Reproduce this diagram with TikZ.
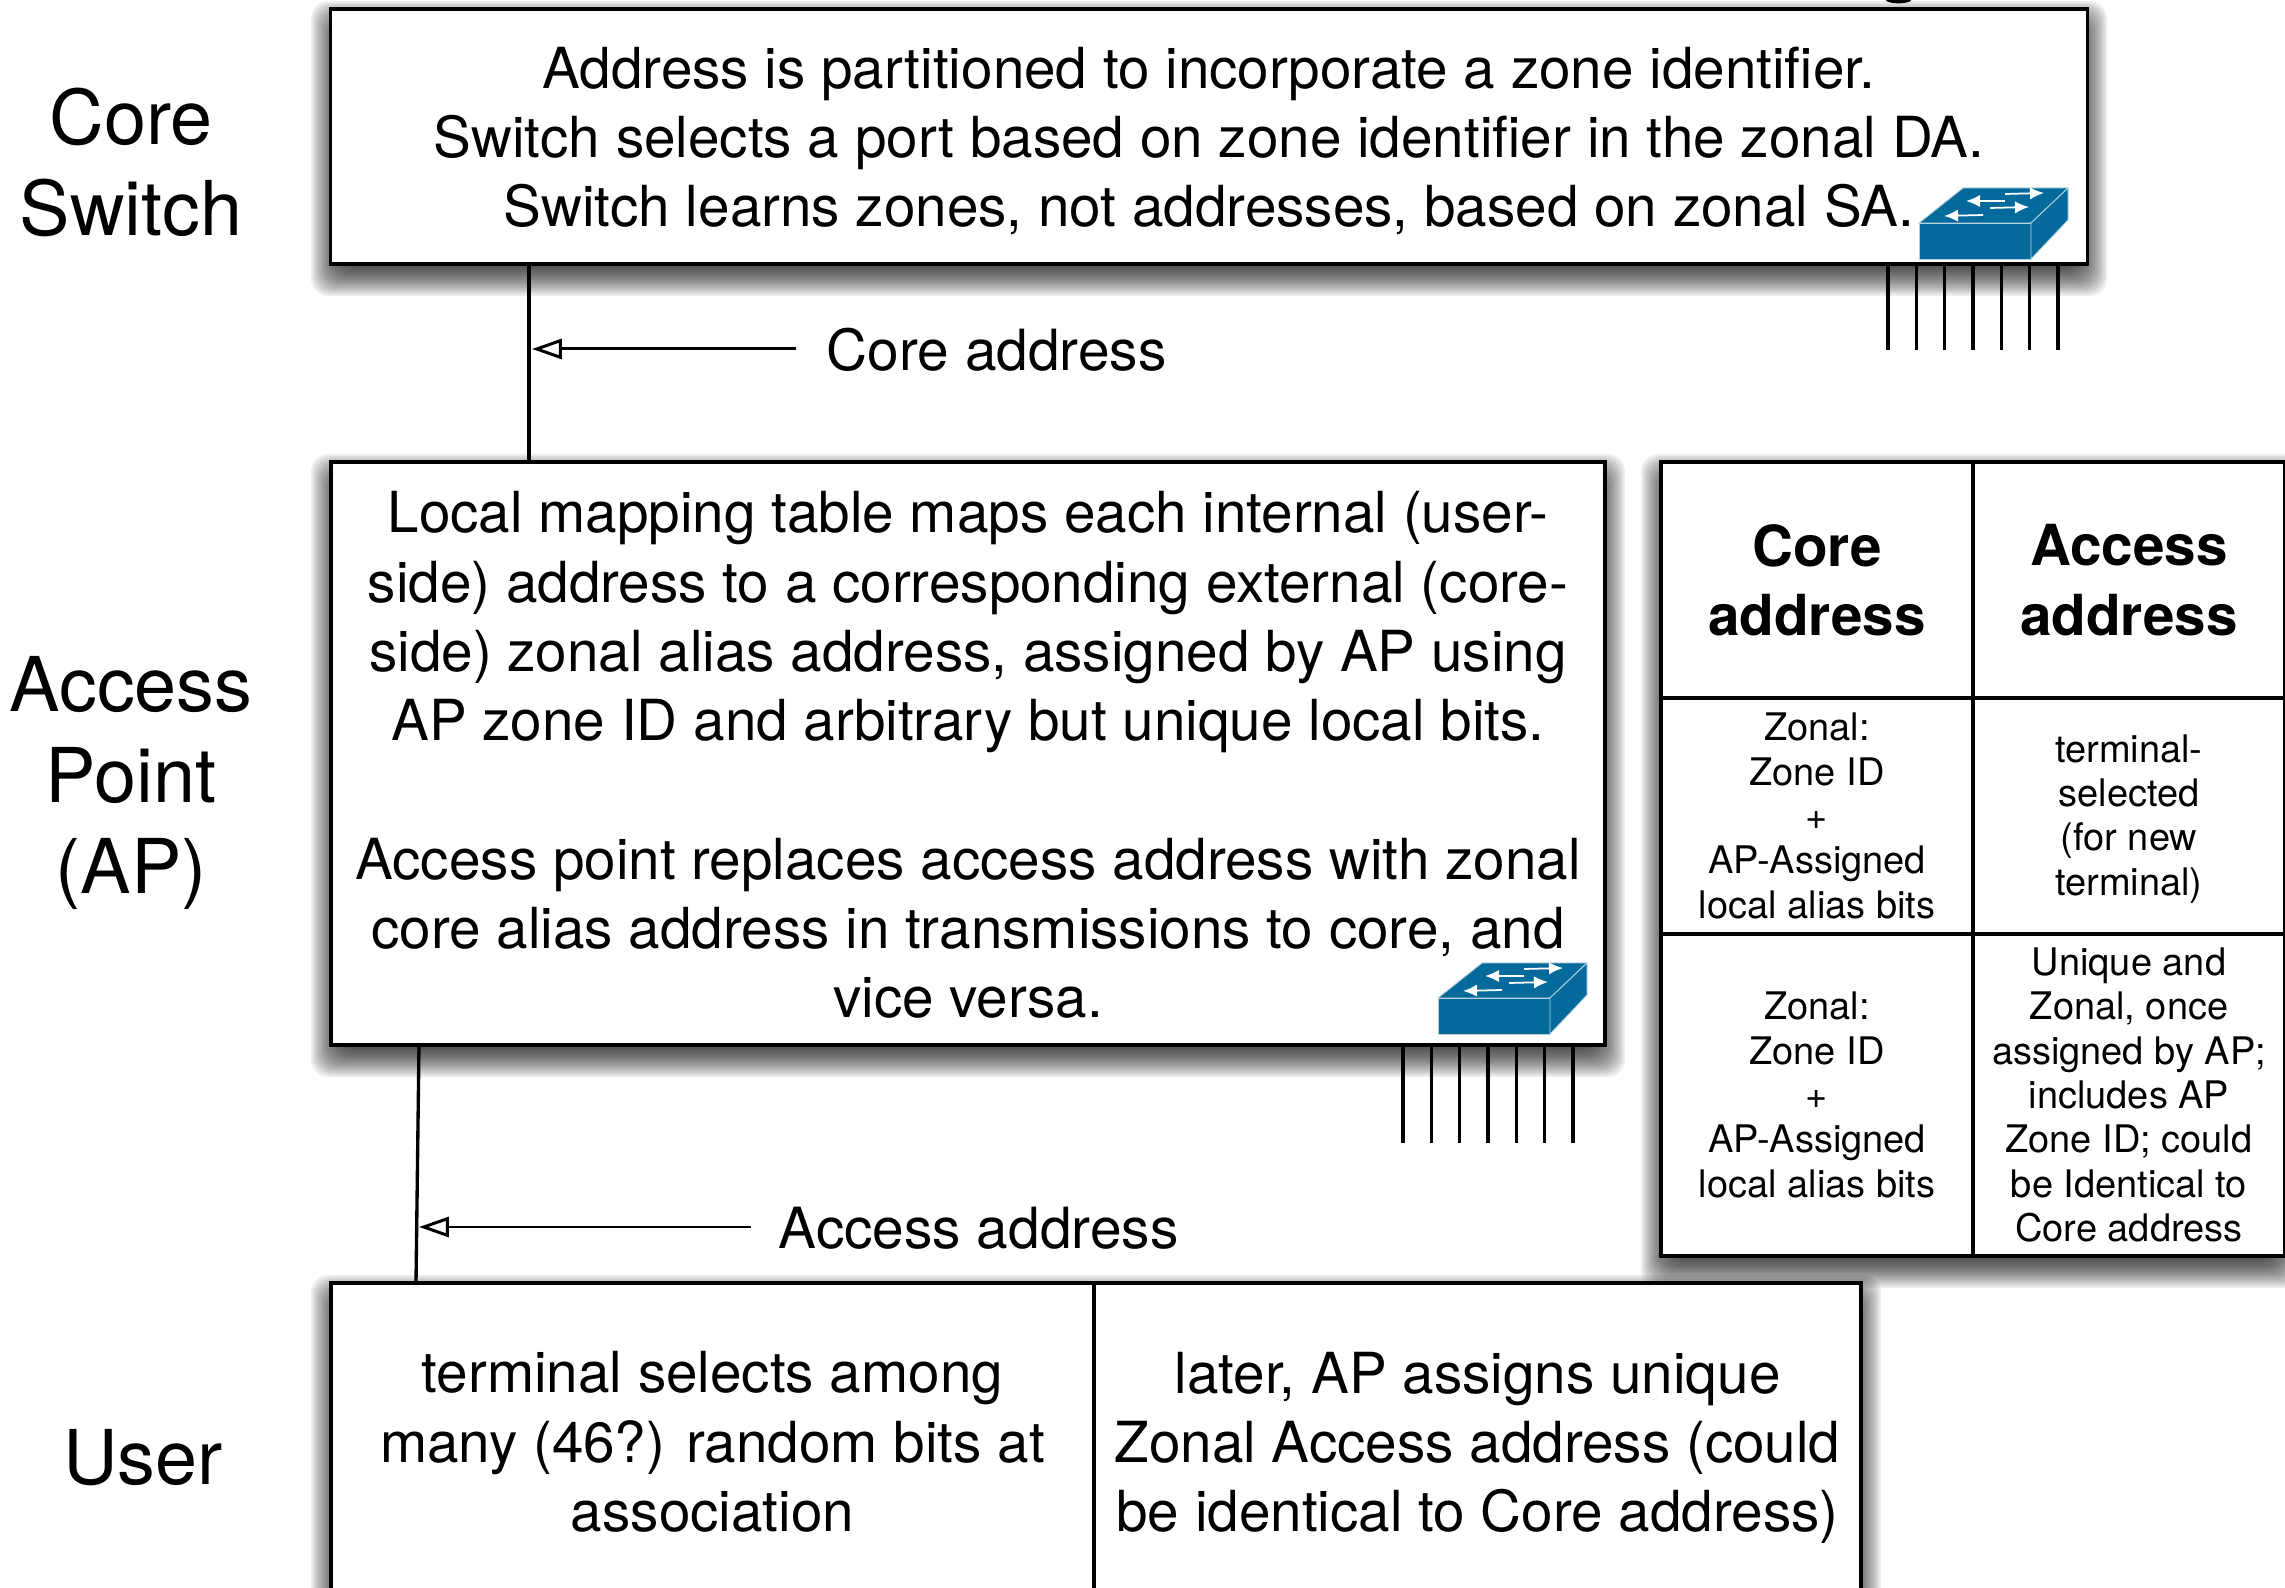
\documentclass[tikz,border=0pt]{standalone}
\usepackage{fontspec}
\setmainfont{TeX Gyre Heros}
\usetikzlibrary{arrows.meta}
\tikzset{
	panel/.style={draw,fill=white,line width=1.1pt,inner sep=0pt,outer sep=0pt,align=center,font=\fontsize{16.1}{19.7}\selectfont},
	cell/.style={panel,minimum width=3.12cm,font=\fontsize{10.8}{12.6}\selectfont},
	headcell/.style={cell,font=\fontsize{16.1}{19.7}\selectfont\bfseries},
	level/.style={align=center,inner sep=0pt,font=\fontsize{21.5}{25.9}\selectfont},
	tag/.style={anchor=west,inner sep=0pt,font=\fontsize{16.15}{19.7}\selectfont},
	link/.style={line width=0.95pt},
	pointer/.style={line width=0.85pt,-{Triangle[open,length=8.5pt,width=5.7pt]}},
	portline/.style={line width=0.95pt},
	shadowlayer/.style={black,opacity=0.07,rounded corners=5pt}
}
\definecolor{switchblue}{RGB}{4,106,155}
\begin{document}
\begin{tikzpicture}[x=1cm,y=1cm]
\def\h{0.01}
\def\px#1#2{({(#1)*\h},{-(#2)*\h})}
\def\shadowrect#1#2#3#4{
	\foreach \s in {-20,-18,...,20}{
		\fill[shadowlayer] \px{#1-\s}{#2+12-\s} rectangle \px{#3+\s}{#4+12+\s};
	}
}
\def\switchicon#1#2{
	\begin{scope}[xshift={(#1)*\h*1cm},yshift={-(#2)*\h*1cm}]
	\fill[switchblue,draw=white!70!switchblue,line width=0.25pt] \px{1919}{223} -- \px{1963}{188} -- \px{2068}{188} -- \px{2031}{223} -- cycle;
	\fill[switchblue,draw=white!70!switchblue,line width=0.25pt] \px{1919}{223} rectangle \px{2031}{259};
	\fill[switchblue,draw=white!70!switchblue,line width=0.25pt] \px{2031}{223} -- \px{2068}{188} -- \px{2068}{220} -- \px{2031}{259} -- cycle;
	\draw[white,line width=0.5pt,-{Latex[length=4pt,width=3.5pt]}] \px{2005}{194} -- \px{2044}{193};
	\draw[white,line width=0.5pt,-{Latex[length=4pt,width=3.5pt]}] \px{2005}{201} -- \px{1966}{201};
	\draw[white,line width=0.5pt,-{Latex[length=4pt,width=3.5pt]}] \px{1990}{208} -- \px{2029}{207};
	\draw[white,line width=0.5pt,-{Latex[length=4pt,width=3.5pt]}] \px{1983}{215} -- \px{1944}{216};
	\end{scope}
}
\path[use as bounding box,clip] \px{0}{0} rectangle \px{2285}{1588};

\shadowrect{331}{9}{2087}{264}
\shadowrect{331}{462}{1605}{1045}
\shadowrect{331}{1283}{1861}{1601}
\shadowrect{1661}{462}{2283}{1256}

\draw[line width=1.2pt] \px{1887}{-1} .. controls \px{1892}{2} and \px{1905}{2} .. \px{1910}{-1};

\node[level] (corelevel) at \px{131}{162} {Core\\Switch};
\node[level] (aplevel) at \px{131}{783} {Access\\Point\\(AP)};
\node[level] (userlevel) at \px{143}{1458} {User};

\node[panel,minimum width=17.56cm,minimum height=2.55cm,text depth=0pt] (corebox) at \px{1209}{136.5} {};
\node[inner sep=0pt,align=center,font=\fontsize{16.1}{19.7}\selectfont] (coretext) at \px{1209}{141} {Address is partitioned to incorporate a zone identifier.\\Switch selects a port based on zone identifier in the zonal DA.\\Switch learns zones, not addresses, based on zonal SA.};

\node[panel,minimum width=12.74cm,minimum height=5.83cm] (apbox) at \px{968}{753.5} {};
\node[inner sep=0pt,align=center,font=\fontsize{16.1}{19.7}\selectfont] (aptext) at \px{968}{755} {Local mapping table maps each internal (user-\\side) address to a corresponding external (core-\\side) zonal alias address, assigned by AP using\\AP zone ID and arbitrary but unique local bits.\\[19.7pt]Access point replaces access address with zonal\\core alias address in transmissions to core, and\\vice versa.};

\node[panel,minimum width=7.63cm,minimum height=3.18cm] (termbox) at \px{712.5}{1442} {terminal selects among\\many (46?) random bits at\\association};
\node[panel,minimum width=7.67cm,minimum height=3.18cm] (zonebox) at \px{1477.5}{1442} {};
\node[inner sep=0pt,align=center,font=\fontsize{16.1}{19.7}\selectfont] (zonetext) at \px{1477.5}{1448} {later, AP assigns unique\\Zonal Access address (could\\be identical to Core address)};

\node[headcell,minimum height=2.36cm] (head1) at \px{1817}{580} {Core\\address};
\node[headcell,minimum height=2.36cm] (head2) at \px{2129}{580} {Access\\address};
\node[cell,minimum height=2.36cm] (cell11) at \px{1817}{816} {Zonal:\\Zone ID\\+\\AP-Assigned\\local alias bits};
\node[cell,minimum height=2.36cm] (cell12) at \px{2129}{816} {};
\node[inner sep=0pt,align=center,font=\fontsize{10.8}{12.6}\selectfont] (cell12text) at \px{2129}{819} {terminal-\\selected\\(for new\\terminal)};
\node[cell,minimum height=3.22cm] (cell21) at \px{1817}{1095} {Zonal:\\Zone ID\\+\\AP-Assigned\\local alias bits};
\node[cell,minimum height=3.22cm] (cell22) at \px{2129}{1095} {Unique and\\Zonal, once\\assigned by AP;\\includes AP\\Zone ID; could\\be Identical to\\Core address};

\path \px{529}{0} coordinate (uplinkx);
\path \px{419}{1045} coordinate (downtop);
\path \px{416}{1283} coordinate (downbottom);
\draw[link] (uplinkx |- corebox.south) -- (uplinkx |- apbox.north);
\draw[link] (downtop) -- (downbottom);

\node[tag] (coretag) at \px{826}{350} {Core address};
\node[tag] (accesstag) at \px{778}{1228} {Access address};
\path \px{532}{349} coordinate (coretip);
\path \px{796}{349} coordinate (coretail);
\path \px{419}{1227} coordinate (accesstip);
\path \px{751}{1227} coordinate (accesstail);
\draw[pointer] (coretail) -- (coretip);
\draw[pointer] (accesstail) -- (accesstip);

\switchicon{0}{0}
\switchicon{-481}{775}

\foreach \x in {0,...,6}{
	\draw[portline] \px{1888+28.33*\x}{264} -- \px{1888+28.33*\x}{350};
	\draw[portline] \px{1403+28.33*\x}{1045} -- \px{1403+28.33*\x}{1143};
}
\end{tikzpicture}
\end{document}
